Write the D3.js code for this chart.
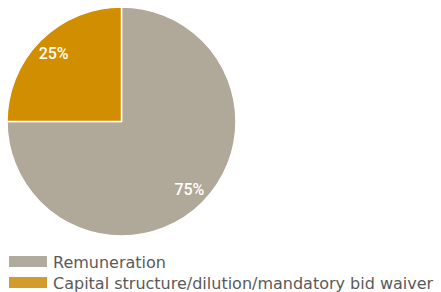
<!DOCTYPE html>
<html>
<head>
<meta charset="utf-8">
<script src="https://cdn.jsdelivr.net/npm/d3@7"></script>
<style>
  body { margin: 0; background: #fff; }
  svg text { font-family: "DejaVu Sans", sans-serif; }
  svg text.pct { font-family: "Roboto", sans-serif; }
</style>
</head>
<body>
<div id="chart"></div>
<script>
'use strict';
const categories = ["Remuneration", "Capital structure/dilution/mandatory bid waiver"];
const values = [75, 25];
const sliceColors = ["#b0a898", "#d18f00"];
const swatchColors = ["#b0aa9f", "#d39b2c"];

const width = 441, height = 292;
const cx = 121.5, cy = 121.5, radius = 114.5;

const svg = d3.select("#chart").append("svg")
  .attr("width", width)
  .attr("height", height);

const pie = d3.pie().sort(null).value(function (d) { return d; });
const arc = d3.arc().innerRadius(0).outerRadius(radius);
const labelArc = d3.arc().innerRadius(96).outerRadius(96);

const g = svg.append("g")
  .attr("transform", "translate(" + cx + "," + cy + ")");

const arcs = pie(values);

g.selectAll("path")
  .data(arcs)
  .enter().append("path")
  .attr("d", arc)
  .attr("fill", function (d, i) { return sliceColors[i]; })
  .attr("stroke", "#fff")
  .attr("stroke-width", 1.5);

g.selectAll("text.pct")
  .data(arcs)
  .enter().append("text")
  .attr("class", "pct")
  .attr("transform", function (d) { return "translate(" + labelArc.centroid(d) + ")"; })
  .attr("text-anchor", "middle")
  .attr("dy", "0.36em")
  .attr("fill", "#fff")
  .attr("font-size", 16)
  .attr("font-weight", 500)
  .text(function (d) { return d.data + "%"; });

// legend
const legend = svg.append("g").attr("transform", "translate(9,256)");
const rows = legend.selectAll("g")
  .data(categories)
  .enter().append("g")
  .attr("transform", function (d, i) { return "translate(0," + i * 21 + ")"; });

rows.append("rect")
  .attr("width", 38)
  .attr("height", 11)
  .attr("fill", function (d, i) { return swatchColors[i]; });

rows.append("text")
  .attr("x", 44)
  .attr("y", 11.5)
  .attr("fill", "#5a5a5a")
  .attr("font-size", 16)
  .text(function (d) { return d; });
</script>
</body>
</html>
